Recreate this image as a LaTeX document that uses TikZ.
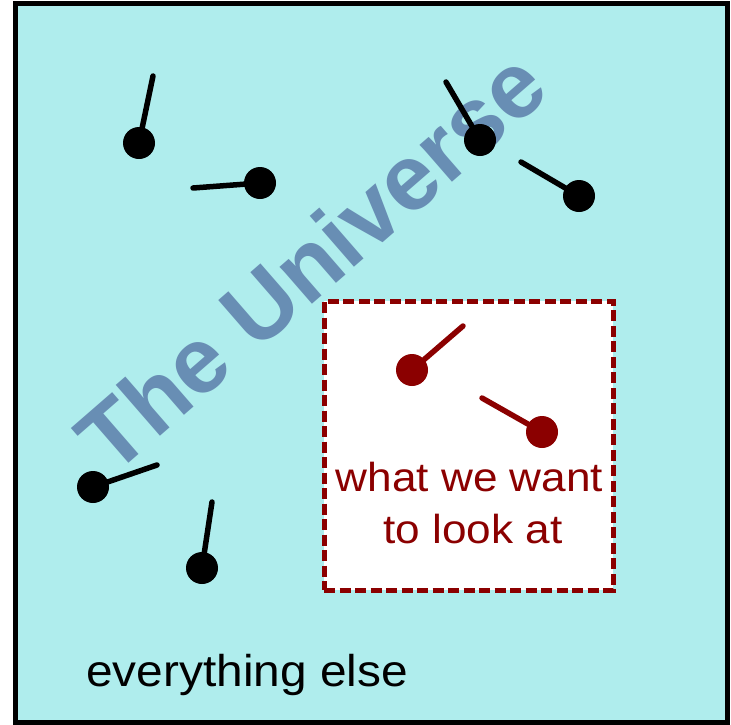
\documentclass[tikz,border=0pt]{standalone}
\usepackage{fontspec}
\setmainfont{Liberation Sans}
\definecolor{bgcyan}{RGB}{175,237,237}
\definecolor{unicol}{RGB}{104,142,180}
\definecolor{dred}{RGB}{139,0,0}
\begin{document}
\begin{tikzpicture}[x=1pt,y=-1pt,
  dot/.style={circle,fill=black,inner sep=0pt,minimum size=32pt},
  rdot/.style={dot,fill=dred},
  stick/.style={line width=5.5pt,line cap=round,draw=black},
  rstick/.style={stick,draw=dred},
  frame/.style={draw=black,line width=5.5pt,fill=bgcyan},
  focus/.style={draw=dred,line width=5pt,dash pattern=on 11pt off 4.5pt,fill=white,
    minimum width=289pt,minimum height=289pt,inner sep=0pt}]
\useasboundingbox (0,0) rectangle (731,724);
\draw[frame] (15.5,3.5) rectangle (727.5,722.5);
\node[rotate=41,anchor=base west,text=unicol,inner sep=0pt,
  font=\bfseries\fontsize{93}{93}\selectfont] (title) at (112,478) {The Universe};
\node[focus] (box) at (468.5,445.5) {};
% black particles
\node[dot] (d1) at (139,143) {}; \coordinate (e1) at (153,76);
\node[dot] (d2) at (260,183) {}; \coordinate (e2) at (193,188);
\node[dot] (d3) at (480,140) {}; \coordinate (e3) at (446,82);
\node[dot] (d4) at (579,196) {}; \coordinate (e4) at (521,162);
\node[dot] (d5) at (93,487) {};  \coordinate (e5) at (157,465);
\node[dot] (d6) at (202,568) {}; \coordinate (e6) at (212,502);
\foreach \i in {1,...,6} {\draw[stick] (d\i.center) -- (e\i);}
% red particles
\node[rdot] (r1) at (412,370) {}; \coordinate (f1) at (463,326);
\node[rdot] (r2) at (542,432) {}; \coordinate (f2) at (482,398);
\foreach \i in {1,2} {\draw[rstick] (r\i.center) -- (f\i);}
% texts
\node[anchor=base,text=dred,inner sep=0pt,font=\fontsize{40.5}{40.5}\selectfont]
  (want1) at (469.5,491.7) {\scalebox{1.09}[1]{what we want}};
\node[anchor=base,text=dred,inner sep=0pt,font=\fontsize{40.5}{40.5}\selectfont]
  (want2) at (473,543.3) {\scalebox{1.09}[1]{to look at}};
\node[anchor=base west,inner sep=0pt,font=\fontsize{44.5}{44.5}\selectfont]
  (else) at (86,686) {\scalebox{1.075}[1]{everything else}};
\end{tikzpicture}
\end{document}
